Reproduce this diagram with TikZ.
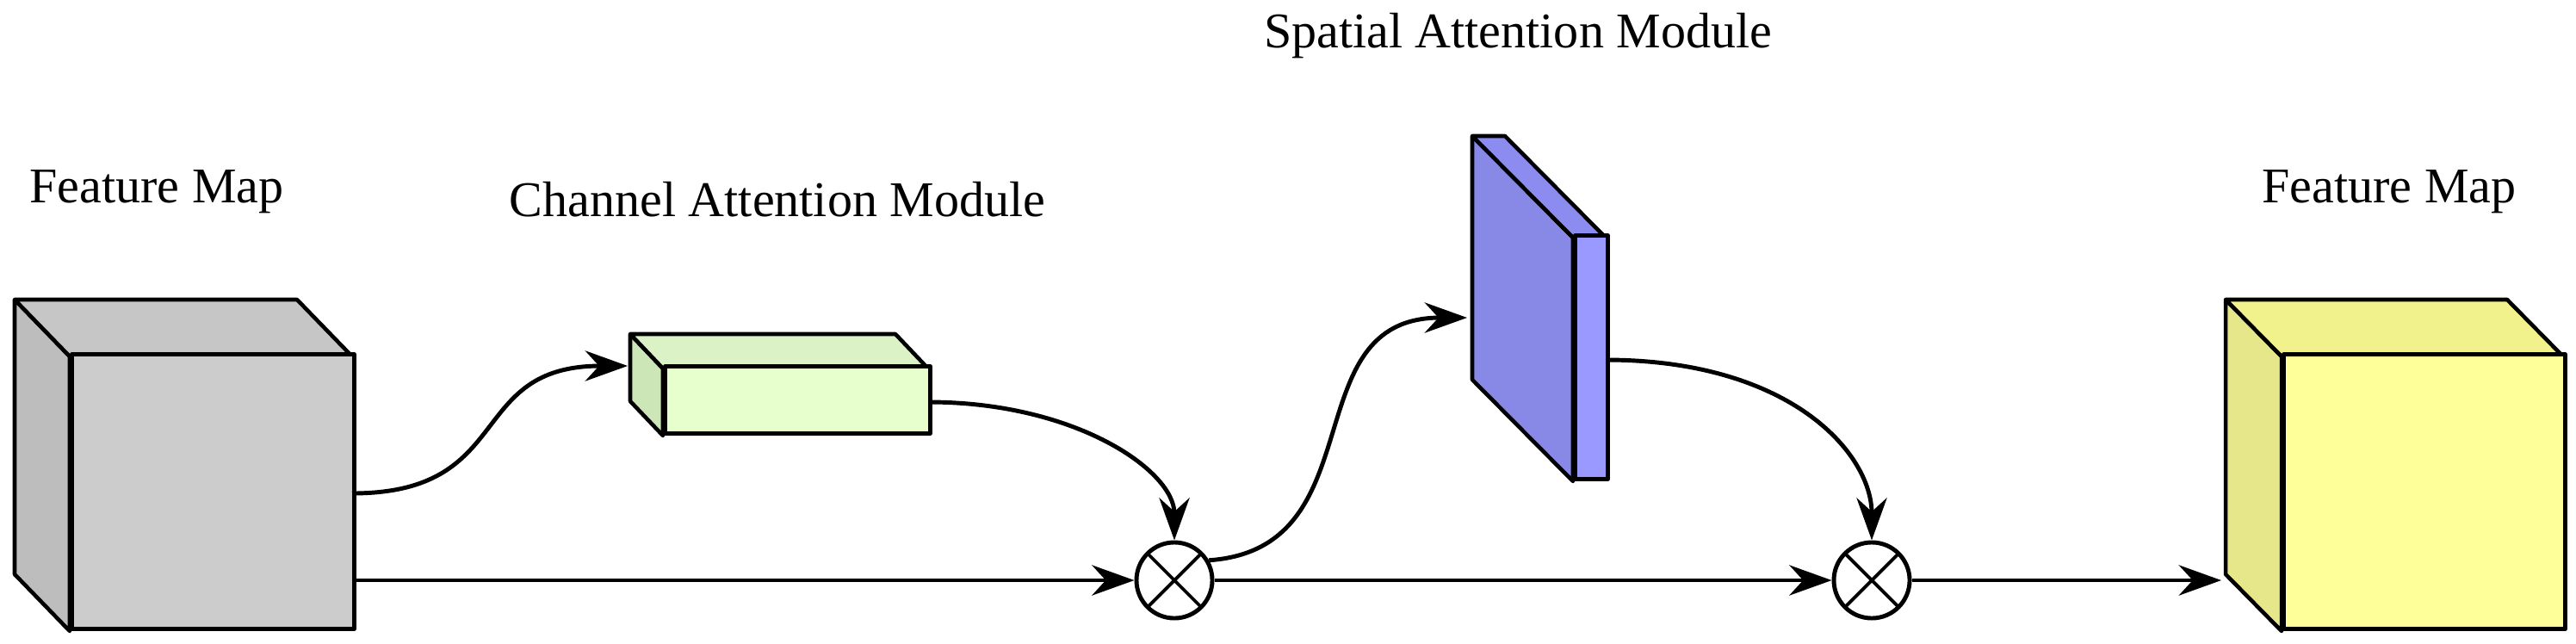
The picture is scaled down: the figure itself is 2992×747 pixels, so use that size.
\documentclass[tikz,border=0pt]{standalone}
\usepackage{fontspec}
\setmainfont{Liberation Serif}
\usetikzlibrary{arrows.meta}
\begin{document}
\begin{tikzpicture}[x=0.01cm,y=0.01cm,
  lbl/.style={font=\fontsize{16.5}{20}\selectfont},
  face/.style={draw=black,line width=1.3pt,line join=round},
  arr/.style={line width=1.4pt,-{Stealth[length=14pt,width=10pt]}},
  mul/.style={circle,draw,line width=1.4pt,minimum size=0.88cm,inner sep=0,path picture={
    \draw[line width=1.1pt] (path picture bounding box.north west)--(path picture bounding box.south east)
      (path picture bounding box.north east)--(path picture bounding box.south west);}}]
\useasboundingbox (0,0) rectangle (2992,747);
% Gray
\draw[face,fill=gray!52] (81,14) -- (17,80) -- (17,399) -- (81,333) -- cycle;
\draw[face,fill=gray!45] (81,333) -- (17,399) -- (345,399) -- (409,333) -- cycle;
\node[face,fill=gray!40,minimum width=3.28cm,minimum height=3.19cm,inner sep=0,anchor=south west] (fm1) at (81,14) {};
% Green
\draw[face,fill={rgb,255:red,204;green,230;blue,184}] (770,241) -- (732,281) -- (732,359) -- (770,319) -- cycle;
\draw[face,fill={rgb,255:red,218;green,242;blue,198}] (770,319) -- (732,359) -- (1040,359) -- (1078,319) -- cycle;
\node[face,fill={rgb,255:red,230;green,255;blue,204},minimum width=3.08cm,minimum height=0.78cm,inner sep=0,anchor=south west] (cam) at (770,241) {};
% Blue
\draw[face,fill={rgb,255:red,136;green,136;blue,230}] (1827,188) -- (1710,306) -- (1710,589) -- (1827,471) -- cycle;
\draw[face,fill={rgb,255:red,140;green,140;blue,240}] (1827,471) -- (1710,589) -- (1748,589) -- (1865,471) -- cycle;
\node[face,fill={rgb,255:red,153;green,153;blue,255},minimum width=0.38cm,minimum height=2.83cm,inner sep=0,anchor=south west] (sam) at (1827,188) {};
% Yellow
\draw[face,fill={rgb,255:red,230;green,230;blue,138}] (2650,14) -- (2585,80) -- (2585,399) -- (2650,333) -- cycle;
\draw[face,fill={rgb,255:red,242;green,242;blue,140}] (2650,333) -- (2585,399) -- (2912,399) -- (2977,333) -- cycle;
\node[face,fill={rgb,255:red,255;green,255;blue,153},minimum width=3.27cm,minimum height=3.19cm,inner sep=0,anchor=south west] (fm2) at (2650,14) {};
% multiply nodes
\node[mul] (m1) at (1364,73) {};
\node[mul] (m2) at (2174,73) {};
% coordinates
\coordinate (a0) at (409,174);
\coordinate (a1) at (729,322);
\coordinate (b0) at (1078,280);
\coordinate (c1) at (1704,378);
\coordinate (d0) at (1865,329);
\coordinate (e1) at (2580,73);
% connectors
\draw[arr] (a0) .. controls (600,174) and (540,322) .. (a1);
\draw[arr] (b0) .. controls (1250,280) and (1364,200) .. (m1.north);
\draw[arr] (fm1.east |- m1) -- (m1.west);
\draw[arr] (m1.30) .. controls (1600,110) and (1500,378) .. (c1);
\draw[arr] (d0) .. controls (2080,329) and (2174,220) .. (m2.north);
\draw[arr] (m1.east) -- (m2.west);
\draw[arr] (m2.east) -- (e1);
% labels
\node[lbl] (t1) at (182,524) {Feature Map};
\node[lbl] (t2) at (903,515) {Channel Attention Module};
\node[lbl] (t3) at (1763,705) {Spatial Attention Module};
\node[lbl] (t4) at (2775,524) {Feature Map};
\end{tikzpicture}
\end{document}
